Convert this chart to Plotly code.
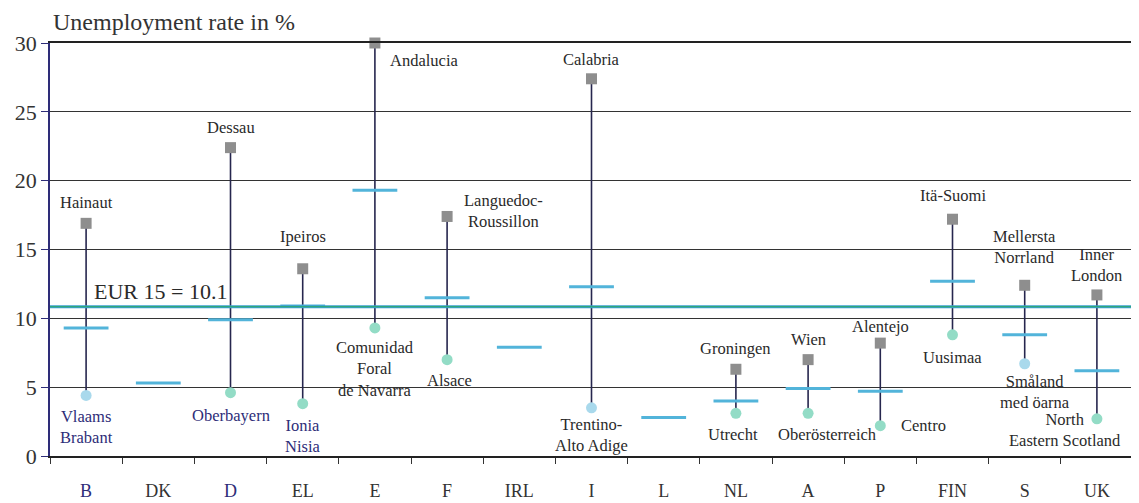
import plotly.graph_objects as go

# national averages and extreme regions, 1999
countries = ["B", "DK", "D", "EL", "E", "F", "IRL", "I", "L", "NL", "A", "P", "FIN", "S", "UK"]
national_rate = [9.3, 5.3, 9.9, 10.9, 19.3, 11.5, 7.9, 12.3, 2.8, 4.0, 4.9, 4.7, 12.7, 8.8, 6.2]

max_region = ["Hainaut", None, "Dessau", "Ipeiros", "Andalucia", "Languedoc-<br>Roussillon", None,
              "Calabria", None, "Groningen", "Wien", "Alentejo", "Itä-Suomi",
              "Mellersta<br>Norrland", "Inner<br>London"]
max_rate = [16.9, None, 22.4, 13.6, 30.0, 17.4, None, 27.4, None, 6.3, 7.0, 8.2, 17.2, 12.4, 11.7]

min_region = ["Vlaams<br>Brabant", None, "Oberbayern", "Ionia<br>Nisia", "Comunidad<br>Foral<br>de Navarra",
              "Alsace", None, "Trentino-<br>Alto Adige", None, "Utrecht", "Oberösterreich", "Centro",
              "Uusimaa", "Småland<br>med öarna", "North<br>Eastern Scotland"]
min_rate = [4.4, None, 4.6, 3.8, 9.3, 7.0, None, 3.5, None, 3.1, 3.1, 2.2, 8.8, 6.7, 2.7]

eur_level = 10.85
eur_label = "EUR 15 = 10.1"

SERIF = "Liberation Serif, DejaVu Serif, serif"
NAVY = "#2e2d78"
TXT = "#2a2a2a"
TEAL_DOT = "#93dcc6"
BLUE_DOT = "#a9d9ec"
min_dot_colours = [BLUE_DOT, TEAL_DOT, TEAL_DOT, TEAL_DOT, TEAL_DOT, TEAL_DOT, TEAL_DOT, BLUE_DOT,
                   TEAL_DOT, TEAL_DOT, TEAL_DOT, TEAL_DOT, TEAL_DOT, BLUE_DOT, TEAL_DOT]

fig = go.Figure()

# max-min connectors
for c, hi, lo in zip(countries, max_rate, min_rate):
    if hi is None:
        continue
    fig.add_trace(go.Scatter(x=[c, c], y=[lo, hi], mode="lines",
                             line=dict(color="#26264e", width=1.6),
                             hoverinfo="skip", showlegend=False, cliponaxis=False))

fig.add_trace(go.Scatter(x=countries, y=national_rate, mode="markers", name="national",
                         marker=dict(symbol="line-ew-open", size=32, color="#52b4da",
                                     line=dict(color="#52b4da", width=3)),
                         showlegend=False))
fig.add_trace(go.Scatter(x=countries, y=max_rate, mode="markers", name="max",
                         marker=dict(symbol="square", size=11, color="#8e8e8e"),
                         showlegend=False, cliponaxis=False))
fig.add_trace(go.Scatter(x=countries, y=min_rate, mode="markers", name="min",
                         marker=dict(symbol="circle", size=11, color=min_dot_colours),
                         showlegend=False, cliponaxis=False))

# EU average line
fig.add_shape(type="line", xref="paper", x0=0, x1=1, y0=eur_level, y1=eur_level,
              line=dict(color="#3a9fd0", width=3))
fig.add_shape(type="line", xref="paper", x0=0, x1=1, y0=eur_level, y1=eur_level,
              line=dict(color="#2fa77a", width=1.2))
fig.add_annotation(text=eur_label, xref="paper", x=0.039, y=eur_level, xanchor="left",
                   yanchor="bottom", yshift=1, showarrow=False,
                   font=dict(family=SERIF, size=22, color=TXT))

# label placement: (xanchor, yanchor, xshift, yshift, colour)
place = {
    "Hainaut": ("center", "bottom", 0, 10, TXT),
    "Dessau": ("center", "bottom", 0, 10, TXT),
    "Ipeiros": ("center", "bottom", 0, 22, TXT),
    "Andalucia": ("left", "top", 14, -7, TXT),
    "Languedoc-<br>Roussillon": ("left", "middle", 16, 5, TXT),
    "Calabria": ("center", "bottom", 0, 9, TXT),
    "Groningen": ("center", "bottom", 0, 10, TXT),
    "Wien": ("center", "bottom", 0, 10, TXT),
    "Alentejo": ("center", "bottom", 0, 6, TXT),
    "Itä-Suomi": ("center", "bottom", 0, 13, TXT),
    "Mellersta<br>Norrland": ("center", "bottom", 0, 17, TXT),
    "Inner<br>London": ("center", "bottom", 0, 9, TXT),
    "Vlaams<br>Brabant": ("center", "top", 0, -11, NAVY),
    "Oberbayern": ("center", "top", 0, -12, NAVY),
    "Ionia<br>Nisia": ("center", "top", 0, -11, NAVY),
    "Comunidad<br>Foral<br>de Navarra": ("center", "top", 0, -9, TXT),
    "Alsace": ("center", "top", 2, -10, TXT),
    "Trentino-<br>Alto Adige": ("center", "top", 0, -6, TXT),
    "Utrecht": ("center", "top", -3, -11, TXT),
    "Oberösterreich": ("center", "top", 19, -11, TXT),
    "Centro": ("left", "middle", 20, 0, TXT),
    "Uusimaa": ("center", "top", 0, -12, TXT),
    "Småland<br>med öarna": ("center", "top", 10, -7, TXT),
    "North<br>Eastern Scotland": ("center", "middle", -32, -11, TXT),
}

for names, rates in ((max_region, max_rate), (min_region, min_rate)):
    for c, name, val in zip(countries, names, rates):
        if name is None:
            continue
        xa, ya, xs, ys, col = place[name]
        fig.add_annotation(x=c, y=val, text=name, showarrow=False, xanchor=xa, yanchor=ya,
                           xshift=xs, yshift=ys, align="center", borderpad=0,
                           font=dict(family=SERIF, size=16.5, color=col))

fig.add_annotation(text="Unemployment rate in %", xref="paper", yref="paper", x=0, y=1,
                   xanchor="left", yanchor="middle", xshift=1, yshift=21, showarrow=False,
                   font=dict(family=SERIF, size=24, color="#333333"))

tick_text = [f'<span style="color:{NAVY}">{c}</span>' if c in ("B", "D") else c for c in countries]

fig.update_xaxes(type="category", categoryorder="array", categoryarray=countries,
                 tickvals=countries, ticktext=tick_text, range=[-0.5, 14.5],
                 tickson="boundaries", ticks="outside", ticklen=6, tickcolor="#333",
                 showline=True, linecolor="#222", linewidth=1.5, mirror=True,
                 showgrid=False, ticklabelstandoff=18, automargin=False,
                 tickfont=dict(family=SERIF, size=18, color="#333"))
fig.update_yaxes(range=[0, 30], dtick=5, showgrid=True, gridcolor="#333", gridwidth=1.2,
                 zeroline=False, ticks="outside", ticklen=7, tickcolor=NAVY,
                 showline=True, linecolor=NAVY, linewidth=1.5, mirror=True, automargin=False,
                 tickfont=dict(family=SERIF, size=22, color="#333"))

# page body adds an 8px margin, so the figure is shrunk and margins reduced to compensate
fig.update_layout(width=1131, height=495, margin=dict(l=42, r=6, t=35, b=47),
                  plot_bgcolor="white", paper_bgcolor="white",
                  font=dict(family=SERIF))

fig.write_html("out.html")
